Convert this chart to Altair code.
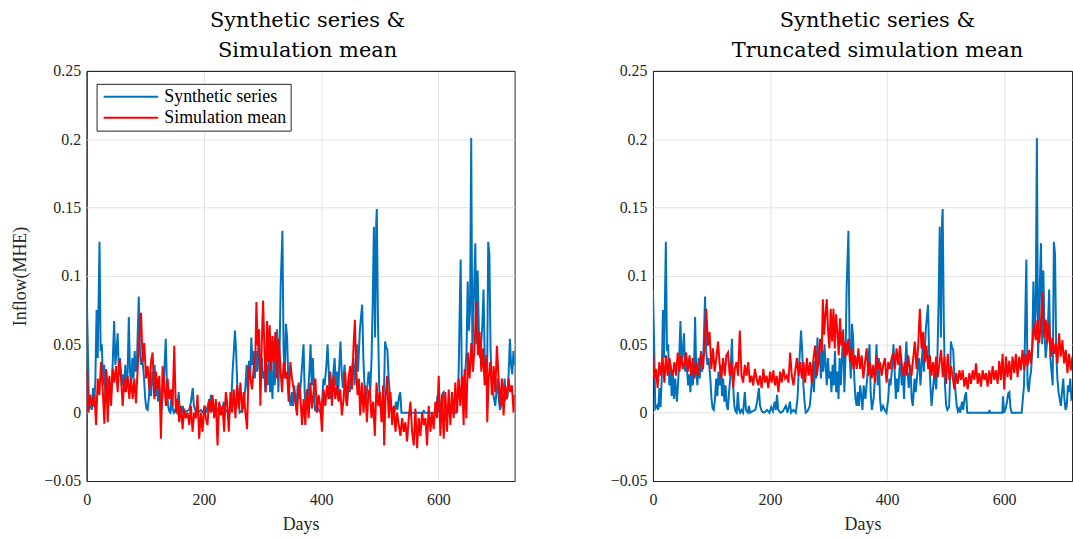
import altair as alt
import pandas as pd

# ---------------- data ----------------
synthetic_series = [
    (0, 0.090), (2, 0.050), (4, 0.003), (7, 0.005), (9, 0.002), (11, 0.018), (13, 0.004), (15, 0.025),
    (17, 0.075), (19, 0.040), (22, 0.125), (24, 0.045), (26, 0.050), (28, 0.020), (30, 0.035), (32, 0.012),
    (34, 0.030), (36, 0.010), (38, 0.025), (41, 0.008), (44, 0.030), (47, 0.067), (49, 0.035), (51, 0.045),
    (53, 0.058), (55, 0.030), (57, 0.040), (60, 0.020), (62, 0.028), (64, 0.015), (66, 0.035), (68, 0.020),
    (70, 0.030), (72, 0.070), (74, 0.030), (76, 0.020), (78, 0.040), (80, 0.025), (82, 0.045), (84, 0.030),
    (86, 0.040), (89, 0.085), (91, 0.045), (93, 0.035), (95, 0.040), (98, 0.025), (100, 0.010), (102, 0.003),
    (104, 0.002), (106, 0.010), (108, 0.025), (110, 0.012), (112, 0.030), (114, 0.020), (116, 0.035),
    (118, 0.012), (120, 0.025), (122, 0.008), (124, 0.020), (126, 0.005), (128, 0.002), (130, 0.015),
    (132, 0.025), (135, 0.054), (137, 0.020), (139, 0.005), (141, 0.001), (143, 0.000), (145, 0.015),
    (147, 0.002), (149, 0.000), (151, 0.002), (154, 0.000), (157, 0.015), (159, 0.002), (162, 0.000),
    (164, 0.005), (166, 0.000), (170, 0.001), (175, 0.002), (178, 0.008), (181, 0.018), (183, 0.005),
    (186, 0.001), (190, 0.000), (195, 0.002), (199, 0.000), (202, 0.004), (205, 0.001), (208, 0.008),
    (210, 0.002), (212, 0.013), (214, 0.002), (218, 0.000), (222, 0.001), (227, 0.005), (230, 0.000),
    (234, 0.008), (236, 0.000), (240, 0.002), (244, 0.000), (247, 0.010), (249, 0.030), (251, 0.044),
    (253, 0.060), (255, 0.045), (257, 0.020), (259, 0.008), (261, 0.000), (264, 0.001), (266, 0.003),
    (268, 0.005), (271, 0.020), (273, 0.035), (275, 0.015), (277, 0.038), (279, 0.025), (281, 0.055),
    (283, 0.035), (285, 0.045), (287, 0.025), (289, 0.045), (291, 0.030), (293, 0.050), (295, 0.035),
    (297, 0.020), (299, 0.040), (301, 0.025), (303, 0.030), (305, 0.015), (307, 0.035), (309, 0.020),
    (311, 0.045), (313, 0.015), (315, 0.030), (317, 0.010), (319, 0.040), (321, 0.020), (323, 0.040),
    (325, 0.061), (327, 0.015), (329, 0.040), (331, 0.093), (334, 0.133), (336, 0.045), (338, 0.025),
    (340, 0.065), (342, 0.055), (344, 0.025), (346, 0.010), (348, 0.005), (350, 0.015), (352, 0.005),
    (354, 0.020), (356, 0.012), (358, 0.002), (360, 0.020), (363, 0.010), (366, 0.025), (370, 0.050),
    (372, 0.015), (374, 0.002), (377, 0.010), (380, 0.030), (382, 0.050), (384, 0.020), (386, 0.040),
    (388, 0.010), (390, 0.001), (393, 0.005), (396, 0.002), (399, 0.000), (402, 0.010), (404, 0.025),
    (406, 0.020), (409, 0.035), (411, 0.050), (413, 0.030), (415, 0.010), (417, 0.025), (419, 0.015),
    (421, 0.030), (423, 0.040), (425, 0.020), (427, 0.030), (429, 0.010), (431, 0.035), (433, 0.052),
    (435, 0.030), (437, 0.018), (440, 0.035), (442, 0.010), (444, 0.005), (447, 0.025), (449, 0.015),
    (452, 0.030), (455, 0.040), (457, 0.020), (459, 0.035), (461, 0.050), (463, 0.030), (466, 0.060),
    (468, 0.070), (470, 0.079), (472, 0.040), (474, 0.020), (476, 0.005), (478, 0.015), (481, 0.030),
    (484, 0.017), (486, 0.040), (488, 0.080), (490, 0.136), (492, 0.055), (494, 0.140), (495, 0.149),
    (497, 0.065), (499, 0.020), (501, 0.005), (503, 0.002), (506, 0.004), (508, 0.030), (509, 0.052),
    (511, 0.048), (513, 0.046), (515, 0.026), (517, 0.015), (519, 0.005), (521, 0.001), (523, 0.003),
    (525, 0.000), (528, 0.008), (530, 0.002), (533, 0.012), (535, 0.015), (537, 0.000), (560, 0.000),
    (574, 0.000), (575, 0.002), (576, 0.000), (597, 0.000), (598, 0.012), (600, 0.000), (602, 0.002),
    (605, 0.008), (607, 0.014), (609, 0.015), (611, 0.003), (613, 0.000), (630, 0.000), (634, 0.020),
    (635, 0.040), (637, 0.090), (638, 0.112), (640, 0.020), (642, 0.015), (644, 0.025), (646, 0.030),
    (648, 0.045), (650, 0.096), (652, 0.060), (654, 0.075), (656, 0.201), (658, 0.040), (660, 0.075),
    (662, 0.110), (663, 0.124), (665, 0.050), (667, 0.104), (669, 0.060), (671, 0.040), (673, 0.050),
    (675, 0.065), (677, 0.090), (679, 0.040), (681, 0.030), (683, 0.020), (685, 0.125), (687, 0.116),
    (689, 0.045), (691, 0.025), (693, 0.015), (695, 0.010), (697, 0.005), (699, 0.015), (701, 0.025),
    (703, 0.010), (705, 0.002), (707, 0.005), (709, 0.020), (711, 0.015), (713, 0.025), (715, 0.010),
    (718, 0.012), (720, 0.030), (722, 0.054), (724, 0.035), (726, 0.028), (728, 0.045), (730, 0.035),
]

simulation_mean = [
    (0.8, 0.032), (3.1, 0.000), (6.5, 0.013), (8.8, 0.005), (13.3, 0.013), (16.2, -0.009), (19.0, 0.025),
    (21.8, 0.013), (24.7, 0.037), (27.5, 0.017), (30.3, -0.008), (33.2, 0.032), (36.0, -0.007), (38.9, 0.027),
    (41.7, 0.005), (44.5, 0.032), (47.4, 0.022), (50.2, 0.034), (53.0, 0.015), (55.9, 0.039), (58.7, 0.025),
    (61.6, 0.005), (64.4, 0.025), (67.2, 0.015), (70.1, 0.027), (72.9, 0.010), (75.7, 0.025), (78.6, 0.010),
    (81.4, 0.025), (84.2, 0.007), (87.1, 0.032), (89.9, 0.054), (92.8, 0.073), (95.6, 0.037), (98.4, 0.051),
    (101.3, 0.025), (104.1, 0.034), (107.0, 0.017), (109.8, 0.037), (112.6, 0.044), (115.5, 0.010),
    (118.3, 0.030), (121.1, 0.017), (124.0, 0.027), (126.8, -0.019), (129.6, 0.034), (132.5, 0.022),
    (135.3, 0.005), (138.2, 0.025), (141.0, 0.010), (143.8, 0.017), (146.7, 0.005), (149.5, 0.049),
    (152.3, 0.000), (155.2, 0.010), (158.0, -0.007), (160.8, 0.005), (163.7, -0.012), (166.5, 0.003),
    (169.4, -0.004), (172.2, 0.000), (175.0, -0.009), (177.9, 0.005), (180.7, -0.014), (183.5, 0.000),
    (186.4, -0.004), (189.2, 0.013), (192.0, -0.019), (194.9, 0.000), (197.7, -0.014), (200.6, 0.005),
    (203.4, -0.004), (206.2, -0.009), (209.1, 0.010), (211.9, 0.000), (214.7, 0.013), (217.6, -0.004),
    (220.4, 0.010), (223.3, -0.024), (226.1, 0.008), (228.9, -0.002), (231.8, 0.005), (234.6, -0.014),
    (237.4, 0.015),
    (239.7, 0.008), (242.5, -0.014), (245.4, 0.015), (248.2, 0.000), (251.0, 0.017), (253.9, -0.004),
    (256.7, 0.020), (259.6, 0.003), (262.4, 0.022), (265.2, 0.000), (268.1, 0.015), (270.9, 0.000),
    (273.7, -0.012), (276.6, 0.034), (279.4, 0.025), (282.3, 0.017), (285.1, 0.034), (287.9, 0.042),
    (289.6, 0.081), (291.9, 0.049), (294.2, 0.061), (296.4, 0.005), (298.7, 0.049), (301.0, 0.082),
    (303.2, 0.049), (305.5, 0.015), (307.8, 0.067), (310.1, 0.037), (312.3, 0.064), (314.6, 0.030),
    (316.9, 0.056), (319.1, 0.037), (322.0, 0.059), (324.8, 0.025), (327.6, 0.054), (330.5, 0.034),
    (333.3, 0.015), (336.2, 0.037), (339.0, 0.025), (341.8, 0.030), (344.7, 0.008), (347.5, 0.037),
    (350.3, 0.025), (353.2, 0.017), (356.0, 0.008), (358.9, -0.002), (361.7, 0.022), (364.5, 0.013),
    (367.4, -0.009), (370.2, 0.010), (373.0, -0.009), (375.9, 0.017), (378.7, -0.004), (381.6, 0.022),
    (384.4, 0.003), (387.2, 0.015), (390.1, 0.025), (392.9, 0.000), (395.7, 0.013), (398.6, 0.005),
    (401.4, -0.014), (404.2, 0.017), (407.1, 0.005), (409.9, 0.020), (412.8, 0.010), (415.6, 0.030),
    (418.4, 0.005), (421.3, 0.027), (424.1, 0.010), (427.0, 0.020), (429.8, 0.008), (432.6, 0.017),
    (435.4, -0.002), (438.3, 0.010), (441.1, 0.030), (444.0, 0.005), (446.8, 0.025), (449.6, 0.034),
    (452.5, 0.017), (455.3, 0.049), (457.6, 0.068), (459.9, 0.030), (462.1, 0.013), (464.4, 0.025),
    (466.7, -0.002), (469.5, 0.022), (472.3, 0.000), (475.2, 0.020), (478.0, -0.007), (480.8, 0.015),
    (483.1, 0.017), (485.9, -0.004), (488.8, 0.008), (491.6, -0.017), (494.5, 0.022), (497.3, 0.005),
    (500.1, 0.015), (503.0, -0.007), (505.8, 0.020), (507.5, -0.024), (509.8, 0.010), (512.6, 0.027),
    (515.4, -0.004), (518.3, 0.015), (521.1, -0.009), (524.0, 0.005), (526.8, -0.014), (529.6, 0.000),
    (532.5, -0.009), (535.3, -0.017), (538.1, -0.004), (541.0, -0.014), (543.8, -0.007), (546.6, -0.021),
    (549.5, -0.004), (552.3, 0.008), (555.2, -0.014), (558.0, -0.024), (560.8, 0.003), (563.7, -0.026),
    (566.5, -0.004), (569.3, -0.017), (572.2, 0.000), (575.0, -0.009), (577.9, -0.004), (580.7, -0.024),
    (583.5, 0.005), (586.4, -0.014), (589.2, 0.000), (592.0, -0.012), (594.9, 0.008), (597.7, -0.004),
    (600.6, 0.027), (603.4, -0.017), (606.2, 0.013), (609.1, -0.019), (611.9, 0.015), (614.7, -0.014),
    (617.6, 0.017), (620.4, -0.009), (623.2, 0.015), (626.1, -0.004), (628.9, 0.022), (631.8, 0.000),
    (634.6, 0.025), (637.4, 0.005), (640.3, 0.027), (643.1, -0.009), (644.8, 0.032), (647.6, -0.004),
    (650.5, 0.044), (653.3, 0.025), (656.2, 0.051), (659.0, 0.030), (661.8, 0.049), (664.7, 0.081),
    (667.5, 0.042), (670.3, 0.059), (673.2, 0.030), (676.0, 0.047), (678.9, 0.020), (681.7, 0.042),
    (683.4, -0.007), (685.7, 0.025), (688.5, 0.037), (691.3, 0.013), (694.2, 0.034), (697.0, 0.015),
    (699.8, 0.049), (702.7, 0.025), (705.5, 0.005), (708.4, 0.025), (711.2, -0.002), (714.0, 0.020),
    (716.9, 0.010), (719.7, 0.025), (722.5, 0.015), (725.4, 0.020), (728.2, 0.000), (730.0, 0.013),
]

truncated_simulation_mean = [
    (0.0, 0.047), (2.3, 0.025), (5.2, 0.032), (8.0, 0.018), (10.9, 0.037), (13.8, 0.027), (16.6, 0.040),
    (19.5, 0.022), (22.3, 0.042), (25.2, 0.027), (28.1, 0.040), (30.9, 0.032), (33.8, 0.027), (36.7, 0.037),
    (39.5, 0.027), (42.4, 0.044), (45.3, 0.030), (48.1, 0.042), (51.0, 0.032), (53.9, 0.037), (56.7, 0.044),
    (59.6, 0.030), (62.5, 0.042), (65.3, 0.027), (68.2, 0.040), (71.0, 0.025), (73.9, 0.037), (76.8, 0.027),
    (79.6, 0.035), (82.5, 0.044), (85.4, 0.032), (88.2, 0.049), (91.1, 0.076), (94.0, 0.049), (96.8, 0.059),
    (99.7, 0.032), (102.6, 0.047), (105.4, 0.030), (108.3, 0.040), (111.2, 0.052), (114.0, 0.035),
    (116.9, 0.025), (119.8, 0.040), (122.6, 0.027), (125.5, 0.042), (128.3, 0.044), (131.2, 0.027),
    (134.1, 0.037), (136.9, 0.018), (139.8, 0.032), (142.7, 0.037), (145.5, 0.027), (148.4, 0.060),
    (151.3, 0.027), (154.1, 0.022), (157.0, 0.035), (159.9, 0.027), (162.7, 0.037), (165.6, 0.022),
    (168.5, 0.027), (171.3, 0.020), (174.2, 0.032), (177.1, 0.025), (179.9, 0.020), (182.8, 0.027),
    (185.7, 0.018), (188.5, 0.032), (191.4, 0.022), (194.2, 0.027), (197.1, 0.018), (200.0, 0.030),
    (202.8, 0.022), (205.7, 0.031), (208.6, 0.020), (211.4, 0.027), (214.3, 0.015), (217.2, 0.030),
    (220.0, 0.022), (222.9, 0.032), (225.8, 0.025), (228.6, 0.027), (231.5, 0.022), (234.4, 0.044),
    (237.2, 0.027), (240.1, 0.020),
    (243.0, 0.030), (245.9, 0.040), (248.7, 0.027), (251.6, 0.037), (254.4, 0.025), (257.2, 0.037),
    (260.1, 0.022), (262.9, 0.040), (265.8, 0.027), (268.6, 0.037), (271.4, 0.022), (274.3, 0.040),
    (277.1, 0.049), (280.0, 0.027), (282.8, 0.037), (285.6, 0.054), (288.5, 0.044), (290.2, 0.083),
    (292.5, 0.057), (294.7, 0.072), (297.0, 0.083), (299.3, 0.059), (301.5, 0.047), (303.8, 0.076),
    (306.1, 0.052), (308.4, 0.076), (310.6, 0.047), (312.9, 0.072), (315.2, 0.059), (317.4, 0.042),
    (319.7, 0.069), (322.0, 0.049), (324.3, 0.059), (326.5, 0.040), (328.8, 0.052), (331.1, 0.042),
    (333.9, 0.054), (336.8, 0.037), (339.6, 0.047), (342.4, 0.032), (345.3, 0.042), (348.1, 0.032),
    (351.0, 0.047), (353.8, 0.032), (356.6, 0.042), (359.5, 0.025), (362.3, 0.037), (365.2, 0.047),
    (368.0, 0.027), (370.8, 0.037), (373.7, 0.025), (376.5, 0.035), (379.4, 0.022), (382.2, 0.042),
    (385.0, 0.032), (387.9, 0.037), (390.7, 0.027), (393.6, 0.035), (396.4, 0.040), (399.2, 0.022),
    (402.1, 0.037), (404.9, 0.032), (407.8, 0.040), (410.6, 0.044), (413.4, 0.032), (416.3, 0.047),
    (419.1, 0.035), (422.0, 0.049), (424.8, 0.037), (427.6, 0.027), (430.5, 0.037), (433.3, 0.027),
    (436.2, 0.042), (439.0, 0.032), (441.8, 0.027), (444.7, 0.040), (447.5, 0.052), (450.4, 0.032),
    (453.2, 0.049), (456.0, 0.076), (458.9, 0.047), (461.7, 0.059), (464.6, 0.037), (467.4, 0.049),
    (470.2, 0.032), (473.1, 0.042), (475.9, 0.027), (478.8, 0.037), (481.6, 0.025),
    (483.8, 0.041), (486.6, 0.026), (489.5, 0.036), (492.3, 0.046), (495.2, 0.026), (498.0, 0.041),
    (500.8, 0.021), (503.7, 0.043), (506.5, 0.024), (509.4, 0.034), (512.2, 0.026), (515.0, 0.017),
    (517.9, 0.029), (520.7, 0.021), (523.6, 0.031), (526.4, 0.024), (529.2, 0.031), (532.1, 0.019),
    (534.9, 0.026), (537.8, 0.017), (540.6, 0.029), (543.4, 0.021), (546.3, 0.031), (549.1, 0.024),
    (552.0, 0.036), (554.8, 0.021), (557.6, 0.029), (560.5, 0.019), (563.3, 0.031), (566.2, 0.024),
    (569.0, 0.029), (571.8, 0.019), (574.7, 0.031), (577.5, 0.021), (580.4, 0.034), (583.2, 0.024),
    (586.0, 0.031), (588.9, 0.021), (591.7, 0.038), (594.6, 0.024), (597.4, 0.043), (600.2, 0.017),
    (603.1, 0.041), (605.9, 0.026), (608.8, 0.038), (611.6, 0.024), (614.4, 0.041), (617.3, 0.029),
    (620.1, 0.043), (623.0, 0.026), (625.8, 0.041), (628.6, 0.031), (631.5, 0.046), (634.3, 0.031),
    (637.2, 0.043), (640.0, 0.034), (642.8, 0.046), (645.7, 0.036), (648.5, 0.051), (651.4, 0.065),
    (654.2, 0.053), (657.0, 0.068), (659.9, 0.051), (662.7, 0.065), (665.6, 0.088), (668.4, 0.055),
    (671.2, 0.068), (674.1, 0.051), (676.9, 0.065), (679.8, 0.041), (682.6, 0.055), (685.4, 0.043),
    (688.3, 0.051), (691.1, 0.036), (694.0, 0.058), (696.8, 0.041), (699.6, 0.053), (702.5, 0.036),
    (705.3, 0.046), (708.2, 0.029), (711.0, 0.043), (713.8, 0.031), (716.7, 0.041), (720.0, 0.030),
    (725.0, 0.040), (730.0, 0.033),
]

series_names = ["Synthetic series", "Simulation mean"]
series_colors = ["#0072BD", "#FF0000"]
x_ticks = [0, 200, 400, 600]
y_ticks = [-0.05, 0, 0.05, 0.1, 0.15, 0.2, 0.25]

SERIF = "Liberation Serif"
TITLE_FONT = "DejaVu Serif"
FRAME = "#262626"
GRID = "#e3e3e3"


def frame(points, name):
    return pd.DataFrame({
        "day": [p[0] for p in points],
        "value": [p[1] for p in points],
        "series": name,
    })


def edge_color(edges):
    test = " || ".join(f"datum.value == {e}" for e in edges)
    return {"condition": {"test": test, "value": FRAME}, "value": GRID}


def panel(red_points, title_lines, xmax, width, ytitle, dx, legend_y):
    blue_df = frame(synthetic_series, series_names[0])
    red_df = frame(red_points, series_names[1])
    x = alt.X("day:Q",
              scale=alt.Scale(domain=[0, xmax], nice=False, zero=False),
              axis=alt.Axis(values=x_ticks, format="d", labelFlush=False,
                            gridColor=edge_color([0, xmax])),
              title="Days")
    yaxis = alt.Axis(values=y_ticks, format=".2~f", gridColor=edge_color([-0.05, 0.25]))
    if ytitle:
        y = alt.Y("value:Q", scale=alt.Scale(domain=[-0.05, 0.25], nice=False), axis=yaxis, title=ytitle)
    else:
        y = alt.Y("value:Q", scale=alt.Scale(domain=[-0.05, 0.25], nice=False), axis=yaxis, title=None)
    color = alt.Color(
        "series:N",
        scale=alt.Scale(domain=series_names, range=series_colors),
        title=None,
        legend=alt.Legend(
            orient="none", legendX=10, legendY=legend_y, direction="vertical",
            fillColor="white", strokeColor=FRAME, padding=4, cornerRadius=0,
            symbolType="stroke", symbolSize=3000, symbolStrokeWidth=2, symbolOffset=2,
            clipHeight=18, rowPadding=3,
            labelFont=SERIF, labelFontSize=18, labelColor="#000000", labelOffset=5,
        ),
    )
    blue = alt.Chart(blue_df).mark_line(strokeWidth=2, clip=True).encode(x=x, y=y, color=color)
    red = alt.Chart(red_df).mark_line(strokeWidth=2, clip=True).encode(x=x, y=y, color=color)
    return alt.layer(blue, red).properties(
        width=width, height=412,
        title=alt.TitleParams(title_lines, font=TITLE_FONT, fontSize=21, fontWeight="normal",
                              color="#000000", lineHeight=30, anchor="middle", dx=dx, offset=2),
    )


left = panel(simulation_mean, ["Synthetic series &", "Simulation mean"], 730, 430,
             "Inflow(MHE)", 7, 13)
right = panel(truncated_simulation_mean, ["Synthetic series &", "Truncated simulation mean"], 716, 421,
              None, 15, 10)

chart = alt.hconcat(left, right, spacing=94).properties(
    padding={"left": 11, "top": 8, "right": 0, "bottom": 0},
    background="white",
).configure_view(
    stroke=FRAME, strokeWidth=1,
).configure_axis(
    grid=True, gridWidth=1, domain=False, ticks=False,
    labelFont=SERIF, labelFontSize=16, labelColor=FRAME, labelPadding=6,
    titleFont=SERIF, titleFontSize=18, titleFontWeight="normal", titleColor=FRAME,
).configure_axisY(
    titlePadding=14,
).configure_axisX(
    labelPadding=11, titlePadding=8,
)

chart.save("out.html", embed_options={"renderer": "svg", "actions": False})
